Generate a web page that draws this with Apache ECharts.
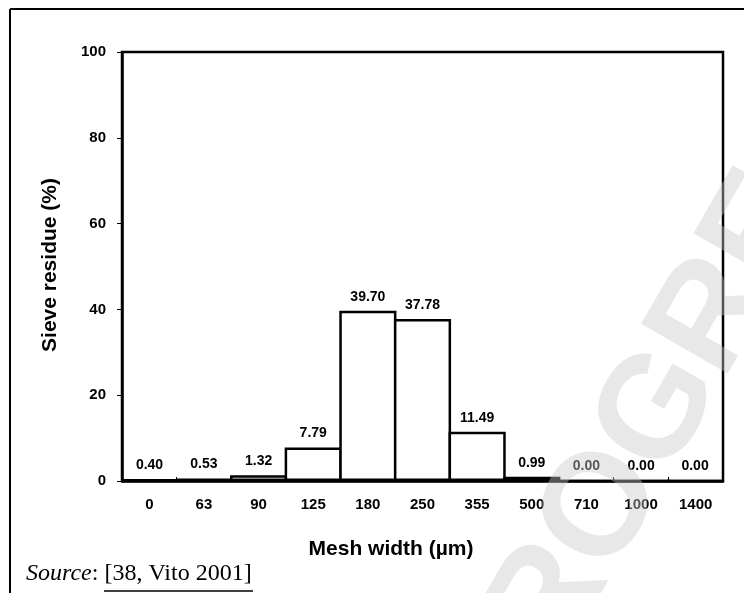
<!DOCTYPE html>
<html>
<head>
<meta charset="utf-8">
<script src="https://cdn.jsdelivr.net/npm/echarts@6/dist/echarts.min.js"></script>
<style>
html,body{margin:0;padding:0;background:#fff;}
#chart{width:744px;height:593px;}
</style>
</head>
<body>
<div id="chart"></div>
<script>
var categories = ['0', '63', '90', '125', '180', '250', '355', '500', '710', '1000', '1400'];
var residues = [0.40, 0.53, 1.32, 7.79, 39.70, 37.78, 11.49, 0.99, 0.00, 0.00, 0.00];
var yTicks = [0, 20, 40, 60, 80, 100];
var xTitle = 'Mesh width (µm)';
var yTitle = 'Sieve residue (%)';
var watermark = 'PROGRESS';

var FONT = '"Liberation Sans", Arial, Helvetica, sans-serif';
var SERIF = '"Liberation Serif", "Times New Roman", serif';

var chart = echarts.init(document.getElementById('chart'), null, {renderer: 'canvas'});
chart.setOption({
  animation: false,
  backgroundColor: '#fff',
  grid: {left: 122, right: 21, top: 52, bottom: 112, show: true, borderColor: '#000', borderWidth: 2.5, backgroundColor: 'transparent'},
  xAxis: {
    type: 'category',
    data: categories,
    boundaryGap: true,
    axisLine: {show: true, lineStyle: {color: '#000', width: 2.5}},
    axisTick: {show: true, inside: true, length: 4, lineStyle: {color: '#000', width: 1}},
    axisLabel: {color: '#000', fontFamily: FONT, fontWeight: 'bold', fontSize: 15, margin: 16},
    splitLine: {show: false}
  },
  yAxis: {
    type: 'value',
    min: yTicks[0],
    max: yTicks[yTicks.length - 1],
    interval: yTicks[1] - yTicks[0],
    axisLine: {show: true, lineStyle: {color: '#000', width: 2.5}},
    axisTick: {show: true, inside: false, length: 5, lineStyle: {color: '#000', width: 1}},
    axisLabel: {color: '#000', fontFamily: FONT, fontWeight: 'bold', fontSize: 15, margin: 16},
    splitLine: {show: false}
  },
  series: [{
    type: 'bar',
    data: residues,
    barWidth: '104.6%',
    barGap: '0%',
    itemStyle: {color: '#fff', borderColor: '#000', borderWidth: 2.5},
    label: {
      show: true,
      position: 'top',
      distance: 7,
      color: '#000',
      fontFamily: FONT,
      fontWeight: 'bold',
      fontSize: 14,
      formatter: function (p) { return p.value.toFixed(2); }
    }
  }],
  graphic: [
    {type: 'line', shape: {x1: 10, y1: 9, x2: 744, y2: 9}, style: {stroke: '#000', lineWidth: 2}, z: 50},
    {type: 'line', shape: {x1: 10, y1: 9, x2: 10, y2: 593}, style: {stroke: '#000', lineWidth: 2}, z: 50},
    {type: 'text', x: 50, y: 265, rotation: Math.PI / 2,
      style: {text: yTitle, fontFamily: FONT, fontWeight: 'bold', fontSize: 21, fill: '#000', textAlign: 'center', textVerticalAlign: 'middle'}, z: 50},
    {type: 'text', x: 391, y: 549,
      style: {text: xTitle, fontFamily: FONT, fontWeight: 'bold', fontSize: 21, fill: '#000', textAlign: 'center', textVerticalAlign: 'middle'}, z: 50},
    {type: 'text', x: 26, y: 586,
      style: {
        text: '{i|Source}{n|: }{u|[38, Vito 2001]}',
        textVerticalAlign: 'bottom',
        rich: {
          i: {fontFamily: SERIF, fontStyle: 'italic', fontSize: 24, fill: '#000'},
          n: {fontFamily: SERIF, fontSize: 24, fill: '#000'},
          u: {fontFamily: SERIF, fontSize: 24, fill: '#000'}
        },
        fontFamily: SERIF, fontSize: 24, fill: '#000'
      }, z: 50},
    {type: 'line', shape: {x1: 104, y1: 591, x2: 253, y2: 591}, style: {stroke: '#000', lineWidth: 1.5}, z: 50},
    {type: 'text', x: 680, y: 376, rotation: 60 * Math.PI / 180,
      style: {text: watermark, fontFamily: FONT, fontWeight: 'bold', fontSize: 145, fill: 'rgba(200,200,200,0.42)', textAlign: 'center', textVerticalAlign: 'middle'}, z: 100}
  ]
});
</script>
</body>
</html>
